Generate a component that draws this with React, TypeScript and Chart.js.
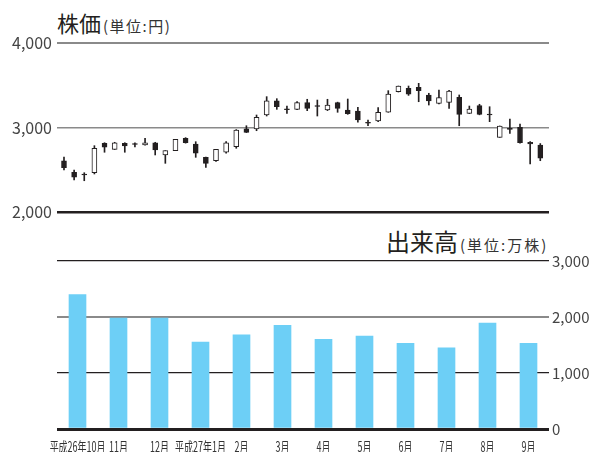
import React, { useEffect, useRef } from 'react';
import { Chart, registerables } from 'chart.js';
Chart.register(...registerables);

const FONT = '"Noto Sans CJK JP", "Noto Sans", sans-serif';
const INK = '#231f20';

// weekly candles (yen)
const candleOpen = [2607, 2470, 2450, 2465, 2813, 2742, 2813, 2810, 2793, 2820, 2675, 2726, 2872, 2805, 2647, 2607, 2707, 2773, 2984, 2982, 3148, 3317, 3220, 3215, 3294, 3258, 3207, 3294, 3207, 3195, 3060, 3077, 3180, 3424, 3464, 3476, 3385, 3286, 3298, 3357, 3168, 3258, 3158, 2884, 2990, 3002, 2825, 2793];
const candleHigh = [2651, 2497, 2465, 2785, 2820, 2825, 2820, 2820, 2872, 2825, 2726, 2860, 2880, 2832, 2650, 2742, 2832, 2975, 3021, 3148, 3365, 3341, 3254, 3306, 3334, 3325, 3334, 3300, 3337, 3239, 3089, 3235, 3436, 3491, 3491, 3523, 3405, 3444, 3440, 3385, 3254, 3275, 3246, 3018, 3101, 3041, 2832, 2810];
const candleLow = [2497, 2379, 2370, 2450, 2707, 2740, 2707, 2769, 2790, 2675, 2576, 2726, 2815, 2647, 2529, 2600, 2695, 2754, 2940, 2962, 3136, 3215, 3168, 3210, 3199, 3136, 3200, 3180, 3156, 3062, 3021, 3070, 3180, 3420, 3380, 3305, 3266, 3280, 3227, 3021, 3165, 3150, 3069, 2884, 2931, 2815, 2568, 2607];
const candleClose = [2524, 2411, 2440, 2754, 2766, 2820, 2781, 2800, 2820, 2734, 2726, 2860, 2820, 2695, 2576, 2742, 2820, 2970, 2943, 3121, 3317, 3246, 3210, 3294, 3227, 3248, 3266, 3227, 3163, 3089, 3050, 3180, 3396, 3491, 3393, 3436, 3314, 3353, 3432, 3156, 3219, 3156, 3148, 3018, 2978, 2820, 2805, 2636];
const priceMin = 2000;
const priceMax = 4000;
const priceStep = 1000;

// monthly volume (10,000 shares)
const volumeMonths = ['平成26年10月', '11月', '12月', '平成27年1月', '2月', '3月', '4月', '5月', '6月', '7月', '8月', '9月'];
const volumeValues = [2400, 1980, 1980, 1550, 1680, 1850, 1600, 1660, 1530, 1450, 1890, 1530];
const volumeMax = 3000;
const volumeStep = 1000;

const fmt = (v: any) => Number(v).toLocaleString('en-US');

// draws the month labels condensed, like the original typesetting
const condensedLabels = {
  id: 'condensedLabels',
  afterDraw(chart: any) {
    const xs = chart.scales.x;
    const ctx = chart.ctx;
    ctx.save();
    ctx.fillStyle = '#333';
    ctx.font = `14px ${FONT}`;
    ctx.textAlign = 'center';
    ctx.textBaseline = 'top';
    const labels = chart.data.labels as string[];
    labels.forEach((lab, i) => {
      const x = xs.getPixelForTick(i);
      ctx.save();
      ctx.translate(x, chart.chartArea.bottom + 11);
      ctx.scale(0.64, 1);
      ctx.fillText(lab, 0, 0);
      ctx.restore();
    });
    ctx.restore();
  },
};

export default function App() {
  const priceRef = useRef<HTMLCanvasElement>(null);
  const volRef = useRef<HTMLCanvasElement>(null);

  useEffect(() => {
    const idx = candleOpen.map((_, i) => i);
    const up = idx.map((i) => candleClose[i] >= candleOpen[i]);
    const n = candleOpen.length;
    const price = new Chart(priceRef.current!, {
      type: 'bar',
      data: {
        datasets: [
          {
            data: idx.map((i) => ({ x: i, y: [candleOpen[i], candleClose[i]] })) as any,
            backgroundColor: up.map((u) => (u ? '#ffffff' : INK)),
            borderColor: INK,
            borderWidth: 1,
            borderSkipped: false,
            barThickness: 5,
            grouped: false,
            order: 0,
          } as any,
          {
            data: idx.map((i) => ({ x: i, y: [candleLow[i], candleHigh[i]] })) as any,
            backgroundColor: INK,
            borderWidth: 0,
            barThickness: 1,
            grouped: false,
            order: 1,
          } as any,
        ],
      },
      options: {
        responsive: false,
        animation: false,
        devicePixelRatio: 1,
        layout: { padding: { top: 43, right: 47, bottom: 18, left: 0 } },
        plugins: { legend: { display: false }, tooltip: { enabled: false } },
        scales: {
          x: { type: 'linear', display: false, min: -0.69, max: n - 1 + 0.86, offset: false },
          y: {
            min: priceMin,
            max: priceMax,
            ticks: {
              stepSize: priceStep,
              padding: 5,
              color: '#444',
              font: { family: FONT, size: 16 },
              callback: (v: any) => fmt(v),
            },
            grid: {
              drawTicks: false,
              color: (c: any) => (c.tick && c.tick.value === priceMin ? '#231f20' : '#8a8a8a'),
              lineWidth: (c: any) => (c.tick && c.tick.value === priceMin ? 2.5 : c.tick && c.tick.value === priceMax ? 2 : 1.5),
            },
            border: { display: false },
            afterFit: (s: any) => {
              s.width = 57;
            },
          },
        },
      } as any,
    });

    const vol = new Chart(volRef.current!, {
      type: 'bar',
      data: {
        labels: volumeMonths,
        datasets: [{ data: volumeValues, backgroundColor: '#6dcff6', barThickness: 17 }],
      },
      plugins: [condensedLabels],
      options: {
        responsive: false,
        animation: false,
        devicePixelRatio: 1,
        layout: { padding: { top: 41, left: 57, right: 0, bottom: 0 } },
        plugins: { legend: { display: false }, tooltip: { enabled: false } },
        scales: {
          x: {
            grid: { display: false },
            border: { display: false },
            ticks: { display: false },
            afterFit: (s: any) => {
              s.height = 23;
            },
          },
          y: {
            position: 'right',
            min: 0,
            max: volumeMax,
            z: 1,
            ticks: {
              stepSize: volumeStep,
              padding: 3,
              color: '#444',
              font: { family: FONT, size: 15 },
              callback: (v: any) => fmt(v),
            },
            grid: {
              drawTicks: false,
              color: (c: any) => (c.tick && c.tick.value === 2000 ? '#8a8a8a' : '#231f20'),
              lineWidth: (c: any) => (c.tick && c.tick.value === 0 ? 3 : c.tick && c.tick.value === 2000 ? 2 : 1.3),
            },
            border: { display: false },
            afterFit: (s: any) => {
              s.width = 47;
            },
          },
        },
      } as any,
    });

    return () => {
      price.destroy();
      vol.destroy();
    };
  }, []);

  return (
    <div style={{ position: 'absolute', left: 0, top: 0, width: 596, height: 452, background: '#fff', overflow: 'hidden', fontFamily: FONT }}>
      <div style={{ position: 'absolute', left: 57, top: 8, fontSize: 22, lineHeight: '28px', color: '#231f20', whiteSpace: 'nowrap' }}>
        株価<span style={{ fontSize: 15, color: '#333', marginLeft: 2, letterSpacing: 1.5 }}>(単位:円)</span>
      </div>
      <div style={{ position: 'absolute', left: 386, top: 226, fontSize: 24, lineHeight: '30px', color: '#231f20', whiteSpace: 'nowrap' }}>
        出来高<span style={{ fontSize: 15, color: '#333', marginLeft: 2, letterSpacing: 2 }}>(単位:万株)</span>
      </div>
      <canvas ref={priceRef} width={596} height={230} style={{ position: 'absolute', left: 0, top: 0, width: 596, height: 230 }} />
      <canvas ref={volRef} width={596} height={232} style={{ position: 'absolute', left: 0, top: 220, width: 596, height: 232 }} />
    </div>
  );
}
